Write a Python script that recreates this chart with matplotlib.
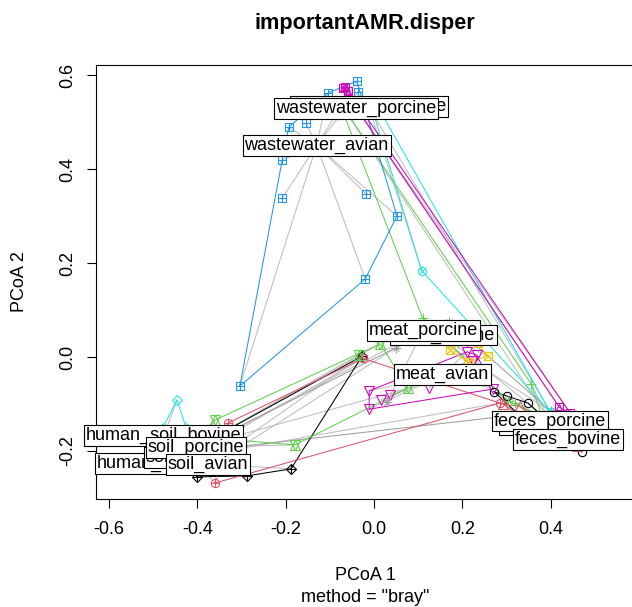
import numpy as np
import matplotlib
matplotlib.use("Agg")
import matplotlib.pyplot as plt

plt.rcParams['font.family'] = ['Liberation Sans', 'DejaVu Sans']
plt.rcParams['axes.unicode_minus'] = False

# ---- data: PCoA scores (axes 1 and 2) per group, and group centroids ----
groups = ["feces_avian", "feces_bovine", "feces_porcine", "human_soil_avian",
          "human_soil_bovine", "meat_avian", "meat_bovine", "meat_porcine",
          "soil_avian", "soil_bovine", "soil_porcine", "wastewater_avian",
          "wastewater_bovine", "wastewater_porcine"]

centroid_x = [0.396, 0.439, 0.398, -0.464, -0.476, 0.156, 0.157, 0.112,
              -0.376, -0.415, -0.404, -0.130, -0.012, -0.041]
centroid_y = [-0.143, -0.176, -0.136, -0.226, -0.167, -0.038, 0.047, 0.057,
              -0.228, -0.213, -0.192, 0.450, 0.533, 0.529]

feces_avian_x = [0.272, 0.302, 0.349, 0.400, 0.471, 0.360]
feces_avian_y = [-0.074, -0.084, -0.098, -0.160, -0.202, -0.150]

feces_bovine_x = [0.292, 0.330, 0.420, 0.460]
feces_bovine_y = [-0.100, -0.105, -0.185, -0.190]

feces_porcine_x = [-0.080, 0.110, 0.356, 0.304, 0.319, 0.380]
feces_porcine_y = [0.545, 0.083, -0.057, -0.094, -0.098, -0.125]

human_soil_avian_x = [-0.500, -0.440, -0.470, -0.420]
human_soil_avian_y = [-0.215, -0.235, -0.240, -0.220]

human_soil_bovine_x = [-0.446, -0.478, -0.425]
human_soil_bovine_y = [-0.091, -0.150, -0.152]

meat_avian_x = [-0.011, 0.016, -0.011, 0.036, 0.125, 0.211, 0.233, 0.224, 0.270]
meat_avian_y = [-0.072, -0.091, -0.111, -0.081, -0.066, 0.011, 0.004, -0.009, -0.068]

meat_bovine_x = [0.145, 0.172, 0.213, 0.258, 0.235]
meat_bovine_y = [0.042, 0.015, -0.011, 0.002, 0.030]

meat_porcine_x = [-0.340, -0.300, 0.050, 0.170, 0.190, 0.400, 0.030]
meat_porcine_y = [-0.165, -0.190, 0.020, 0.075, 0.030, -0.115, -0.095]

soil_avian_x = [-0.401, -0.288, -0.188, -0.027, -0.400]
soil_avian_y = [-0.255, -0.253, -0.238, 0.002, -0.190]

soil_bovine_x = [-0.360, 0.285, -0.025, -0.330]
soil_bovine_y = [-0.268, -0.098, -0.003, -0.140]

soil_porcine_x = [-0.360, -0.179, 0.014, -0.035, 0.077, -0.400]
soil_porcine_y = [-0.134, -0.187, 0.028, 0.004, -0.066, -0.170]

wastewater_avian_x = [-0.039, -0.036, -0.104, -0.193, -0.154, -0.208, -0.208,
                      -0.018, 0.052, -0.020, -0.304]
wastewater_avian_y = [0.587, 0.564, 0.562, 0.489, 0.498, 0.419, 0.338,
                      0.347, 0.300, 0.166, -0.062]

wastewater_bovine_x = [-0.005, 0.015, 0.108, 0.400]
wastewater_bovine_y = [0.530, 0.522, 0.184, -0.118]

wastewater_porcine_x = [-0.070, -0.066, -0.058, 0.420, 0.445]
wastewater_porcine_y = [0.572, 0.575, 0.566, -0.107, -0.120]

sites_x = {
    "feces_avian": feces_avian_x, "feces_bovine": feces_bovine_x,
    "feces_porcine": feces_porcine_x, "human_soil_avian": human_soil_avian_x,
    "human_soil_bovine": human_soil_bovine_x, "meat_avian": meat_avian_x,
    "meat_bovine": meat_bovine_x, "meat_porcine": meat_porcine_x,
    "soil_avian": soil_avian_x, "soil_bovine": soil_bovine_x,
    "soil_porcine": soil_porcine_x, "wastewater_avian": wastewater_avian_x,
    "wastewater_bovine": wastewater_bovine_x,
    "wastewater_porcine": wastewater_porcine_x,
}
sites_y = {
    "feces_avian": feces_avian_y, "feces_bovine": feces_bovine_y,
    "feces_porcine": feces_porcine_y, "human_soil_avian": human_soil_avian_y,
    "human_soil_bovine": human_soil_bovine_y, "meat_avian": meat_avian_y,
    "meat_bovine": meat_bovine_y, "meat_porcine": meat_porcine_y,
    "soil_avian": soil_avian_y, "soil_bovine": soil_bovine_y,
    "soil_porcine": soil_porcine_y, "wastewater_avian": wastewater_avian_y,
    "wastewater_bovine": wastewater_bovine_y,
    "wastewater_porcine": wastewater_porcine_y,
}

x_ticks = [-0.6, -0.4, -0.2, 0.0, 0.2, 0.4]
y_ticks = [-0.2, 0.0, 0.2, 0.4, 0.6]

# ---- styling (R default palette, pch = group index) ----
palette = ["#000000", "#DF536B", "#61D04F", "#2297E6",
           "#28E2E5", "#CD0BBC", "#F5C710", "#9E9E9E"]
seg_col = "#BEBEBE"

# each R plotting symbol built from one or more matplotlib markers: (marker, size)
PCH = {
    1: [("o", 6.0)],
    2: [("^", 6.5)],
    3: [("+", 7.0)],
    4: [("x", 5.5)],
    5: [("D", 5.5)],
    6: [("v", 6.5)],
    7: [("s", 5.5), ("x", 5.5)],
    8: [("+", 6.5), ("x", 5.0)],
    9: [("D", 5.5), ("+", 7.5)],
    10: [("o", 6.0), ("+", 6.0)],
    11: [("^", 6.5), ("v", 6.5)],
    12: [("s", 5.5), ("+", 5.5)],
    13: [("o", 6.0), ("x", 4.3)],
    14: [("s", 5.5), ("^", 5.0)],
}
OPEN = {"o", "s", "D", "^", "v"}

# drawing order of the centroid labels (later ones sit on top)
label_order = ["wastewater_bovine", "wastewater_porcine", "wastewater_avian",
               "meat_bovine", "meat_porcine", "meat_avian",
               "feces_avian", "feces_porcine", "feces_bovine",
               "human_soil_bovine", "human_soil_avian", "soil_bovine",
               "soil_porcine", "soil_avian"]


def convex_hull(x, y):
    pts = sorted(zip(x, y))
    if len(pts) <= 2:
        return pts

    def cross(o, a, b):
        return (a[0] - o[0]) * (b[1] - o[1]) - (a[1] - o[1]) * (b[0] - o[0])

    lower, upper = [], []
    for p in pts:
        while len(lower) >= 2 and cross(lower[-2], lower[-1], p) <= 0:
            lower.pop()
        lower.append(p)
    for p in reversed(pts):
        while len(upper) >= 2 and cross(upper[-2], upper[-1], p) <= 0:
            upper.pop()
        upper.append(p)
    return lower[:-1] + upper[:-1]


W, H, DPI = 632, 607, 100
fig = plt.figure(figsize=(W / DPI, H / DPI), dpi=DPI, facecolor="white")
left_px, right_px, top_px, bottom_px = 96, 634, 65, 499
ax = fig.add_axes([left_px / W, (H - bottom_px) / H,
                   (right_px - left_px) / W, (bottom_px - top_px) / H])
ax.set_xlim(-0.6297, 0.5889)
ax.set_ylim(-0.3021, 0.6213)

lw = 0.75

# segments from every site to its group centroid
for gi, g in enumerate(groups):
    for px, py in zip(sites_x[g], sites_y[g]):
        ax.plot([px, centroid_x[gi]], [py, centroid_y[gi]], color=seg_col,
                lw=lw, zorder=1, solid_capstyle="butt")

# convex hulls
for gi, g in enumerate(groups):
    hull = convex_hull(sites_x[g], sites_y[g])
    hx = [p[0] for p in hull] + [hull[0][0]]
    hy = [p[1] for p in hull] + [hull[0][1]]
    ax.plot(hx, hy, color=palette[gi % 8], lw=lw, zorder=2)

# site symbols
for gi, g in enumerate(groups):
    col = palette[gi % 8]
    for mk, ms in PCH[gi + 1]:
        ax.plot(sites_x[g], sites_y[g], linestyle="none", marker=mk,
                markersize=ms, markeredgewidth=0.8, markeredgecolor=col,
                markerfacecolor="none" if mk in OPEN else col, zorder=3)

# boxed centroid labels
for k, g in enumerate(label_order):
    gi = groups.index(g)
    ax.text(centroid_x[gi], centroid_y[gi], g, ha="center", va="center",
            fontsize=13, zorder=10 + k,
            bbox=dict(boxstyle="square,pad=0.1", fc="white", ec="black", lw=0.8))

ax.set_xticks(x_ticks)
ax.set_xticklabels([f"{v:.1f}" for v in x_ticks])
ax.set_yticks(y_ticks)
ax.set_yticklabels([f"{v:.1f}" for v in y_ticks], rotation=90, va="center")
ax.tick_params(axis="both", direction="out", length=6.5, width=0.8,
               labelsize=13, color="black")
ax.tick_params(axis="x", pad=9)
ax.tick_params(axis="y", pad=8)
for s in ax.spines.values():
    s.set_linewidth(0.8)
    s.set_color("black")

fig.text(365 / W, 1 - 29 / H, "importantAMR.disper", ha="center",
         va="baseline", fontsize=15.6, fontweight="bold")
fig.text(365 / W, 1 - 575 / H, "PCoA 1", ha="center", va="center", fontsize=13)
fig.text(365 / W, 1 - 597 / H, 'method = "bray"', ha="center", va="center",
         fontsize=13)
fig.text(20 / W, 1 - 282 / H, "PCoA 2", ha="center", va="center",
         rotation=90, fontsize=13)

fig.savefig("out.png", dpi=DPI, facecolor="white")
